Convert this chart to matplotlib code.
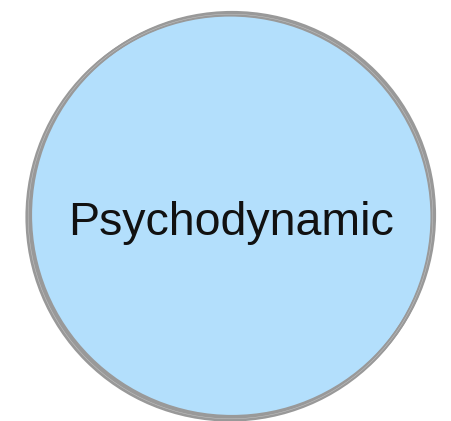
import matplotlib.pyplot as plt
from matplotlib.patches import Circle

# chart content
labels = ["Psychodynamic"]
centers_x = [232]
centers_y = [215]
radii = [202]

fill_color = "#b3dffc"
edge_color = "#999999"

fig = plt.figure(figsize=(4.52, 4.21), dpi=100)
ax = fig.add_axes([0, 0, 1, 1])
ax.set_xlim(0, 452)
ax.set_ylim(421, 0)
ax.set_aspect("equal")
ax.axis("off")

# overlapping full circles, slightly offset, to mimic the hand drawn border
# (thicker towards the lower left like in the original)
strokes = [
    # dx, dy, dr, lw, colour
    (0.0, 0.0, 0.0, 3.0, edge_color),
    (-2.0, 2.0, 0.5, 3.0, edge_color),
    (-1.5, 1.5, 0.3, 0.35, "#c4c4c4"),
]

for lab, cx, cy, r in zip(labels, centers_x, centers_y, radii):
    ax.add_patch(Circle((cx, cy), r, facecolor=fill_color, edgecolor="none"))
    for dx, dy, dr, lw, col in strokes:
        ax.add_patch(Circle((cx + dx, cy + dy), r + dr, fill=False,
                            edgecolor=col, lw=lw))
    ax.text(cx - 1, cy + 20, lab, ha="center", va="baseline", fontsize=33.5,
            family="Liberation Sans", color="#111111")

fig.savefig("out.png", dpi=100)
